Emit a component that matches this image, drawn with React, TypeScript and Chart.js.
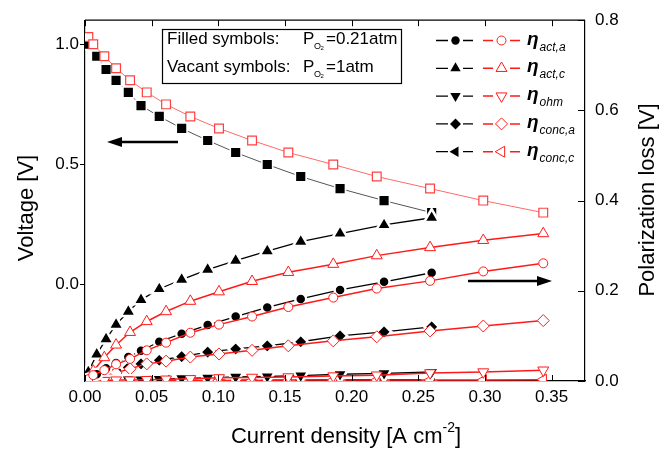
import React, { useEffect, useRef } from 'react';
import { Chart, registerables } from 'chart.js';
import { drawPoint } from 'chart.js/helpers';

Chart.register(...registerables);

// ---------- data ----------
// current density [A cm-2], 0.21 atm (filled symbols)
const xLow = [0.0025, 0.0088, 0.0158, 0.0233, 0.0325, 0.042, 0.0557, 0.0725, 0.092, 0.113, 0.1367, 0.1618, 0.1913, 0.2243, 0.26];
// current density [A cm-2], 1 atm (vacant symbols)
const xHigh = [0.0025, 0.0062, 0.0145, 0.0233, 0.0338, 0.0463, 0.0608, 0.079, 0.1005, 0.1253, 0.1525, 0.1862, 0.2188, 0.2588, 0.2987, 0.3437];

// voltage [V]
const vLow = [1.0, 0.95, 0.895, 0.85, 0.8, 0.745, 0.7, 0.65, 0.6, 0.55, 0.5, 0.45, 0.4, 0.35, 0.3];
const vHigh = [1.03, 1.0, 0.95, 0.9, 0.85, 0.8, 0.75, 0.7, 0.65, 0.6, 0.55, 0.5, 0.45, 0.4, 0.35, 0.3];

// polarization losses [V]
const actALow = [0.004, 0.015, 0.028, 0.04, 0.053, 0.067, 0.087, 0.105, 0.124, 0.143, 0.163, 0.182, 0.202, 0.22, 0.24];
const actAHigh = [0.004, 0.013, 0.024, 0.037, 0.049, 0.068, 0.085, 0.107, 0.125, 0.143, 0.164, 0.185, 0.205, 0.222, 0.243, 0.261];
const actCLow = [0.02, 0.059, 0.093, 0.125, 0.154, 0.18, 0.204, 0.225, 0.247, 0.267, 0.288, 0.309, 0.327, 0.346, 0.362];
const actCHigh = [0.007, 0.022, 0.052, 0.08, 0.108, 0.132, 0.154, 0.177, 0.198, 0.221, 0.241, 0.259, 0.278, 0.296, 0.312, 0.327];
const ohmLow = [0.0, 0.001, 0.001, 0.002, 0.003, 0.003, 0.004, 0.006, 0.007, 0.009, 0.01, 0.012, 0.015, 0.017, 0.02];
const ohmHigh = [0.0, 0.0, 0.001, 0.002, 0.002, 0.003, 0.004, 0.005, 0.007, 0.008, 0.009, 0.011, 0.013, 0.018, 0.02, 0.024];
const concALow = [0.002, 0.009, 0.015, 0.024, 0.03, 0.038, 0.046, 0.054, 0.064, 0.071, 0.078, 0.087, 0.1, 0.109, 0.12];
const concAHigh = [0.002, 0.005, 0.011, 0.018, 0.027, 0.038, 0.044, 0.053, 0.06, 0.068, 0.078, 0.089, 0.098, 0.111, 0.122, 0.134];
const concCLow = [0.0, 0.0, 0.0, 0.001, 0.001, 0.001, 0.001, 0.001, 0.002, 0.002, 0.002, 0.002, 0.003, 0.003, 0.003];
const concCHigh = [0.0, 0.0, 0.0, 0.0, 0.001, 0.001, 0.001, 0.001, 0.001, 0.001, 0.002, 0.002, 0.002, 0.002, 0.002, 0.003];

// axes
const xRange = [0, 0.375];
const xTicks = [0, 0.05, 0.1, 0.15, 0.2, 0.25, 0.3, 0.35];
const yLeftRange = [-0.4, 1.1];
const yLeftTicks = [0, 0.5, 1.0];
const yRightRange = [0, 0.8];
const yRightTicks = [0, 0.2, 0.4, 0.6, 0.8];

// texts
const legendMain = 'η';
const legendSubs = ['act,a', 'act,c', 'ohm', 'conc,a', 'conc,c'];
const boxLine1 = ['Filled symbols:', 'P', 'O', '2', '=0.21atm'];
const boxLine2 = ['Vacant symbols:', 'P', 'O', '2', '=1atm'];
const xTitle = ['Current density [A cm', '-2', ']'];
const yLeftTitle = 'Voltage [V]';
const yRightTitle = 'Polarization loss [V]';

const FONT = '"Liberation Sans", Arial, Helvetica, sans-serif';
const RED = '#ff1a1a';
const HALO = 2.5;

// r: visible size of filled marker, rHalo: radius incl. white halo, rOpen: open marker
const markers = [
  { style: 'circle', rot: 0, r: 4.2, rHalo: 5.5, rOpen: 4.5 },
  { style: 'triangle', rot: 0, r: 6, rHalo: 8.7, rOpen: 6.3 },
  { style: 'triangle', rot: 180, r: 6, rHalo: 8.7, rOpen: 6.3 },
  { style: 'rectRot', rot: 0, r: 5.5, rHalo: 7.2, rOpen: 6 },
  { style: 'triangle', rot: 270, r: 6, rHalo: 8.7, rOpen: 6.3 },
];

const pts = (xs: number[], ys: number[]) => xs.map((x, i) => ({ x, y: ys[i] }));

function makeDatasets() {
  const ds: any[] = [];
  const lowSeries = [actALow, actCLow, ohmLow, concALow, concCLow];
  const highSeries = [actAHigh, actCHigh, ohmHigh, concAHigh, concCHigh];
  for (let i = 0; i < 5; i++) {
    const m = markers[i];
    ds.push({
      data: pts(xHigh, highSeries[i]),
      yAxisID: 'yR',
      borderColor: RED,
      borderWidth: 1.5,
      pointStyle: m.style,
      pointRotation: m.rot,
      pointRadius: m.rOpen,
      pointBorderColor: RED,
      pointBackgroundColor: '#ffffff',
      pointBorderWidth: 1,
      tension: 0,
    });
    ds.push({
      data: pts(xLow, lowSeries[i]),
      yAxisID: 'yR',
      borderColor: '#000000',
      borderWidth: 1.3,
      pointStyle: m.style,
      pointRotation: m.rot,
      pointRadius: m.rHalo,
      pointBorderColor: '#ffffff',
      pointBackgroundColor: '#000000',
      pointBorderWidth: HALO,
      tension: 0,
    });
  }
  ds.push({
    data: pts(xHigh, vHigh),
    yAxisID: 'y',
    borderColor: '#ff6a6a',
    borderWidth: 1,
    pointStyle: 'rect',
    pointRadius: 6.2,
    pointBorderColor: '#ff4040',
    pointBackgroundColor: '#ffffff',
    pointBorderWidth: 1.2,
    tension: 0,
  });
  ds.push({
    data: pts(xLow, vLow),
    yAxisID: 'y',
    borderColor: '#555555',
    borderWidth: 1,
    pointStyle: 'rect',
    pointRadius: 7.6,
    pointBorderColor: '#ffffff',
    pointBackgroundColor: '#000000',
    pointBorderWidth: 1.6,
    tension: 0,
  });
  return ds;
}

function arrow(ctx: CanvasRenderingContext2D, x1: number, x2: number, y: number) {
  const dir = x2 > x1 ? 1 : -1;
  const headLen = 15;
  const half = 5;
  ctx.save();
  ctx.strokeStyle = '#000';
  ctx.fillStyle = '#000';
  ctx.lineWidth = 2.6;
  ctx.beginPath();
  ctx.moveTo(x1, y);
  ctx.lineTo(x2 - dir * (headLen - 2), y);
  ctx.stroke();
  ctx.beginPath();
  ctx.moveTo(x2, y);
  ctx.lineTo(x2 - dir * headLen, y - half);
  ctx.lineTo(x2 - dir * headLen, y + half);
  ctx.closePath();
  ctx.fill();
  ctx.restore();
}

const overlay = {
  id: 'overlay',
  afterDraw(chart: any) {
    const ctx: CanvasRenderingContext2D = chart.ctx;
    const { left, right, top, bottom } = chart.chartArea;
    const xs = chart.scales.x;
    const yR = chart.scales.yR;
    ctx.save();
    // top border
    ctx.strokeStyle = '#000';
    ctx.lineWidth = 1.2;
    ctx.beginPath();
    ctx.moveTo(left, top);
    ctx.lineTo(right, top);
    ctx.stroke();
    // inward x ticks (bottom and top)
    ctx.lineWidth = 1;
    xTicks.forEach((v) => {
      const px = Math.round(xs.getPixelForValue(v)) + 0.5;
      ctx.beginPath();
      ctx.moveTo(px, bottom);
      ctx.lineTo(px, bottom - 6);
      ctx.moveTo(px, top);
      ctx.lineTo(px, top + 6);
      ctx.stroke();
    });
    // inward right ticks
    yRightTicks.forEach((v) => {
      const py = Math.round(yR.getPixelForValue(v)) + 0.5;
      ctx.beginPath();
      ctx.moveTo(right, py);
      ctx.lineTo(right - 7, py);
      ctx.stroke();
    });

    // text box
    ctx.lineWidth = 1.2;
    ctx.fillStyle = '#fff';
    ctx.fillRect(162.5, 29.5, 239, 54);
    ctx.strokeRect(162.5, 29.5, 239, 54);
    ctx.fillStyle = '#000';
    ctx.textBaseline = 'middle';
    ctx.textAlign = 'left';
    [boxLine1, boxLine2].forEach((ln, i) => {
      const y = 39 + i * 28;
      ctx.font = `17px ${FONT}`;
      ctx.fillText(ln[0], 167, y);
      ctx.fillText(ln[1], 303, y);
      ctx.font = `9px ${FONT}`;
      ctx.fillText(ln[2], 314, y + 8);
      ctx.font = `6px ${FONT}`;
      ctx.fillText(ln[3], 320.5, y + 9);
      ctx.font = `17px ${FONT}`;
      ctx.fillText(ln[4], 326, y);
    });

    // arrows
    arrow(ctx, 178, 107, 142);
    arrow(ctx, 468, 552, 281);

    // legend
    for (let i = 0; i < 5; i++) {
      const y = 40.5 + i * 27.8;
      const m = markers[i];
      ctx.lineWidth = 1.3;
      ctx.strokeStyle = '#000';
      ctx.beginPath();
      ctx.moveTo(436, y);
      ctx.lineTo(448, y);
      ctx.moveTo(463, y);
      ctx.lineTo(473, y);
      ctx.stroke();
      ctx.fillStyle = '#000';
      drawPoint(ctx, { pointStyle: m.style, rotation: m.rot, radius: m.r, borderWidth: 0 } as any, 455.5, y);
      ctx.strokeStyle = RED;
      ctx.lineWidth = 1.5;
      ctx.beginPath();
      ctx.moveTo(483, y);
      ctx.lineTo(493, y);
      ctx.moveTo(510, y);
      ctx.lineTo(520, y);
      ctx.stroke();
      ctx.fillStyle = '#fff';
      ctx.lineWidth = 1;
      drawPoint(ctx, { pointStyle: m.style, rotation: m.rot, radius: m.rOpen, borderWidth: 1 } as any, 501.5, y);
      ctx.fillStyle = '#000';
      ctx.font = `bold italic 19px ${FONT}`;
      ctx.textBaseline = 'alphabetic';
      ctx.fillText(legendMain, 527, y + 4);
      const w = ctx.measureText(legendMain).width;
      ctx.font = `italic 12px ${FONT}`;
      ctx.fillText(legendSubs[i], 527 + w + 1, y + 10);
    }

    // axis titles
    ctx.fillStyle = '#000';
    ctx.textBaseline = 'middle';
    const big = `22px ${FONT}`;
    const small = `14px ${FONT}`;
    ctx.font = big;
    const w0 = ctx.measureText(xTitle[0]).width;
    const w2 = ctx.measureText(xTitle[2]).width;
    ctx.font = small;
    const w1 = ctx.measureText(xTitle[1]).width;
    const sx = 346 - (w0 + w1 + w2) / 2;
    const ty = 437;
    ctx.font = big;
    ctx.fillText(xTitle[0], sx, ty);
    ctx.font = small;
    ctx.fillText(xTitle[1], sx + w0, ty - 9);
    ctx.font = big;
    ctx.fillText(xTitle[2], sx + w0 + w1, ty);

    ctx.textAlign = 'center';
    ctx.save();
    ctx.translate(27, 208);
    ctx.rotate(-Math.PI / 2);
    ctx.fillText(yLeftTitle, 0, 0);
    ctx.restore();
    ctx.save();
    ctx.translate(648, 200);
    ctx.rotate(-Math.PI / 2);
    ctx.fillText(yRightTitle, 0, 0);
    ctx.restore();

    ctx.restore();
  },
};

const setTicks = (vals: number[]) => (s: any) => {
  s.ticks = vals.map((v) => ({ value: v }));
};

export default function App() {
  const ref = useRef<HTMLCanvasElement | null>(null);
  useEffect(() => {
    if (!ref.current) return;
    const tickFont = { family: FONT, size: 17 };
    const chart = new Chart(ref.current, {
      type: 'line',
      data: { datasets: makeDatasets() },
      plugins: [overlay],
      options: {
        animation: false,
        responsive: false,
        layout: { padding: { top: 13, left: 0, right: 0, bottom: 0 } },
        plugins: { legend: { display: false }, tooltip: { enabled: false } },
        scales: {
          x: {
            type: 'linear',
            min: xRange[0],
            max: xRange[1],
            afterBuildTicks: setTicks(xTicks),
            afterFit: (s: any) => { s.height = 69; },
            grid: { display: false, drawTicks: false },
            border: { display: true, color: '#000', width: 1.2 },
            ticks: {
              color: '#000',
              font: tickFont,
              padding: 6,
              maxRotation: 0,
              autoSkip: false,
              callback: (v: any) => Number(v).toFixed(2),
            },
          },
          y: {
            type: 'linear',
            position: 'left',
            min: yLeftRange[0],
            max: yLeftRange[1],
            afterBuildTicks: setTicks(yLeftTicks),
            afterFit: (s: any) => { s.width = 85; },
            grid: { display: true, drawOnChartArea: false, drawTicks: true, tickLength: 5, color: '#000' },
            border: { display: true, color: '#000', width: 1.2 },
            ticks: {
              color: '#000',
              font: tickFont,
              padding: 1,
              autoSkip: false,
              callback: (v: any) => Number(v).toFixed(1),
            },
          },
          yR: {
            type: 'linear',
            position: 'right',
            min: yRightRange[0],
            max: yRightRange[1],
            afterBuildTicks: setTicks(yRightTicks),
            afterFit: (s: any) => { s.width = 82; },
            grid: { display: false, drawTicks: false },
            border: { display: true, color: '#000', width: 1.2 },
            ticks: {
              color: '#000',
              font: tickFont,
              padding: 10,
              autoSkip: false,
              callback: (v: any) => Number(v).toFixed(1),
            },
          },
        },
      } as any,
    });
    return () => chart.destroy();
  }, []);
  return (
    <div style={{ position: 'absolute', left: 0, top: 0, width: 667, height: 450, background: '#fff' }}>
      <canvas ref={ref} width={667} height={450} />
    </div>
  );
}
